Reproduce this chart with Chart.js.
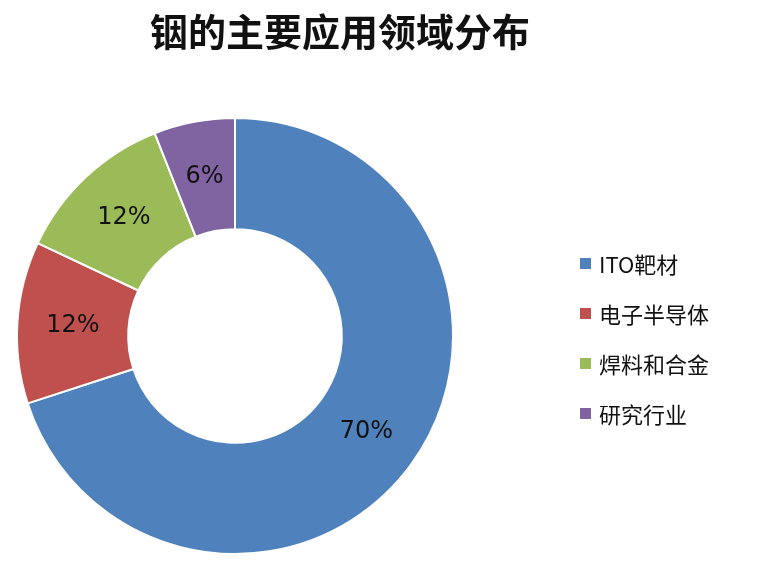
<!DOCTYPE html>
<html>
<head>
<meta charset="utf-8">
<script src="https://cdn.jsdelivr.net/npm/chart.js@4"></script>
<style>
  body { margin: 0; background: #fff; font-family: "Noto Sans CJK SC", sans-serif; }
  #wrap { position: relative; width: 764px; height: 566px; }
  #title { position: absolute; left: 0; width: 680px; top: 2px; text-align: center; font-size: 38px; font-weight: bold; color: #111; }
  #legend { position: absolute; left: 580px; top: 238px; }
  .legend-item { display: flex; align-items: center; height: 50px; font-size: 22px; color: #111; }
  .legend-swatch { width: 11px; height: 11px; margin-right: 8px; }
</style>
</head>
<body>
<div id="wrap">
  <canvas id="pie" width="764" height="566"></canvas>
  <div id="title">铟的主要应用领域分布</div>
  <div id="legend"></div>
</div>
<script>
// DATA
const categories = ["ITO靶材", "电子半导体", "焊料和合金", "研究行业"];
const shares = [70, 12, 12, 6];
const colors = ["#4F81BD", "#C0504D", "#9BBB59", "#8064A2"];

// LEGEND
const legend = document.getElementById("legend");
categories.forEach((name, idx) => {
  const item = document.createElement("div");
  item.className = "legend-item";
  const sw = document.createElement("span");
  sw.className = "legend-swatch";
  sw.style.background = colors[idx];
  const label = document.createElement("span");
  label.textContent = name;
  item.appendChild(sw);
  item.appendChild(label);
  legend.appendChild(item);
});

// slice labels
const sliceLabels = {
  id: "sliceLabels",
  afterDatasetsDraw(chart) {
    const ctx = chart.ctx;
    const meta = chart.getDatasetMeta(0);
    ctx.save();
    ctx.font = "24px 'DejaVu Sans', sans-serif";
    ctx.fillStyle = "#111";
    ctx.textAlign = "center";
    ctx.textBaseline = "middle";
    meta.data.forEach((arc, i) => {
      const p = arc.tooltipPosition();
      ctx.fillText(shares[i] + "%", p.x, p.y);
    });
    ctx.restore();
  },
};

new Chart(document.getElementById("pie").getContext("2d"), {
  type: "doughnut",
  data: {
    labels: categories,
    datasets: [{
      data: shares,
      backgroundColor: colors,
      borderColor: "#fff",
      borderWidth: 2,
    }],
  },
  options: {
    responsive: false,
    animation: false,
    cutout: "49%",
    layout: { padding: { left: 16, right: 310, top: 117, bottom: 11 } },
    plugins: { legend: { display: false }, tooltip: { enabled: false } },
  },
  plugins: [sliceLabels],
});
</script>
</body>
</html>
